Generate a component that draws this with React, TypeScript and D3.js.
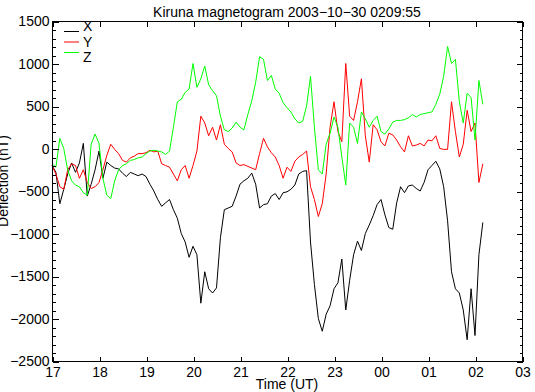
import React, { useEffect, useRef } from 'react';
import * as d3 from 'd3';

// Kiruna magnetogram 2003-10-30, samples every 5 minutes from 17:00 UT
const stepMinutes = 5;
const hourLabels = ['17', '18', '19', '20', '21', '22', '23', '00', '01', '02', '03'];
const seriesNames = ['X', 'Y', 'Z'];

const xValues = [
  -200, -280, -650, -480, -300, -170, -280, -170, 60, -560,
  -420, -250, -30, -350, -160, -200, -230, -240, -290, -330,
  -280, -300, -320, -300, -330, -420, -500, -600, -680, -640,
  -600, -720, -820, -1000, -1100, -1280, -1150, -1250, -1820, -1450,
  -1650, -1700, -1640, -1050, -720, -700, -680, -560, -420, -380,
  -350, -290, -420, -700, -660, -650, -560, -530, -600, -520,
  -510, -480, -430, -300, -270, -260, -1100, -1600, -2000, -2150,
  -1950, -1850, -1650, -1580, -1300, -1900, -1550, -1250, -1090, -1200,
  -1000, -900, -790, -660, -600, -780, -930, -950, -640, -450,
  -520, -440, -430, -470, -500, -400, -250, -200, -150, -240,
  -450, -850, -1450, -1650, -1700, -1900, -2250, -1650, -2200, -1250,
  -870,
];

const yValues = [
  -200, -300, -450, -480, -250, -180, -200, -350, -250, -400,
  -470, -450, -400, -250, -80, 50, -10, -60, -140, -160,
  -110, -90, -60, -60, -50, -20, -40, -30, -180, -200,
  -220, -300, -380, -250, -200, -350, -200, -30, 380, 300,
  150, 250, 100, 280, 50, 0, -40, -170, -200, -190,
  -210, -230, -250, -60, 120, 20, -50, -100, -200, -350,
  -220, -270, -150, -100, -70, -30, -450, -600, -800, -650,
  -300, 250, 550, 200, 80, 1000, 380, 330, 550, 820,
  150, -160, 280, 220, 80, 30, 180, 160, 100, 20,
  -40, 150, 30, 40, 60, 30, 100, 90, 150, 0,
  -10, -10, 550, 200, -100, 50, 450, 200, 300, -400,
  -180,
];

const zValues = [
  -180, -220, 120, 0, -250, -380, -430, -450, -520, -550,
  50, 170, 60, -350, -550, -590, -380, -250, -200, -180,
  -140, -130, -110, -100, -60, -30, -20, -30, -40, -70,
  -30, 250, 550, 580, 660, 700, 1000, 720, 820, 970,
  750, 680, 620, 380, 220, 200, 240, 310, 250, 220,
  400, 560, 780, 1080, 1050, 800, 860, 700, 650, 540,
  480, 430, 350, 300, 320, 500, 850, 250, -250, -300,
  50, 180, 370, 250, -100, -430, 300, 250, 60, 430,
  350, 250, 330, 380, 200, 170, 230, 310, 330, 330,
  340, 360, 400, 370, 400, 410, 420, 430, 520, 640,
  850, 1200, 1000, 1050, 550, 300, 650, 600, 100, 800,
  520,
];

const App: React.FC = () => {
  const ref = useRef<SVGSVGElement>(null);

  useEffect(() => {
    const svg = d3.select(ref.current);
    svg.selectAll('*').remove();

    const width = 535;
    const height = 392;
    const left = 52;
    const right = 522;
    const top = 21;
    const bottom = 361;
    const font = '"Liberation Sans", Arial, Helvetica, sans-serif';
    const colors = ['#000000', '#ff0000', '#00ff00'];

    svg.attr('width', width).attr('height', height);

    const x = d3.scaleLinear().domain([0, 600]).range([left, right]);
    const y = d3.scaleLinear().domain([-2500, 1500]).range([bottom, top]);

    // data lines
    const line = d3
      .line<number>()
      .x((_, i) => x(i * stepMinutes))
      .y((d) => y(d));

    [xValues, yValues, zValues].forEach((vals, k) => {
      svg
        .append('path')
        .attr('d', line(vals))
        .attr('fill', 'none')
        .attr('stroke', colors[k])
        .attr('stroke-width', 1);
    });

    // frame
    svg
      .append('rect')
      .attr('x', left + 0.5)
      .attr('y', top + 0.5)
      .attr('width', right - left)
      .attr('height', bottom - top)
      .attr('fill', 'none')
      .attr('stroke', '#000')
      .attr('shape-rendering', 'crispEdges');

    const hours = d3.range(0, 601, 60);
    const major = d3.range(-2500, 1501, 500);
    const minor = d3.range(-2500, 1501, 100);

    const style = (g: d3.Selection<SVGGElement, unknown, null, undefined>) => {
      g.select('.domain').remove();
      g.selectAll('line').attr('stroke', '#000').attr('shape-rendering', 'crispEdges');
      g.selectAll('text').attr('fill', '#000').style('font-family', font).style('font-size', '14px');
    };

    svg
      .append('g')
      .attr('transform', `translate(0.5,${bottom + 0.5})`)
      .call(
        d3.axisBottom(x).tickValues(hours).tickFormat((_, i) => hourLabels[i])
          .tickSizeInner(-5).tickSizeOuter(0).tickPadding(6)
      )
      .call(style);

    svg
      .append('g')
      .attr('transform', `translate(0.5,${top + 0.5})`)
      .call(d3.axisTop(x).tickValues(hours).tickFormat(() => '').tickSizeInner(-5).tickSizeOuter(0))
      .call(style);

    svg
      .append('g')
      .attr('transform', `translate(${left + 0.5},0.5)`)
      .call(d3.axisLeft(y).tickValues(minor).tickFormat(() => '').tickSizeInner(-3).tickSizeOuter(0))
      .call(style);

    svg
      .append('g')
      .attr('transform', `translate(${left + 0.5},0.5)`)
      .call(d3.axisLeft(y).tickValues(major).tickFormat(d3.format('d')).tickSizeInner(-6).tickSizeOuter(0).tickPadding(3))
      .call(style);

    svg
      .append('g')
      .attr('transform', `translate(${right + 0.5},0.5)`)
      .call(d3.axisRight(y).tickValues(minor).tickFormat(() => '').tickSizeInner(-3).tickSizeOuter(0))
      .call(style);

    svg
      .append('g')
      .attr('transform', `translate(${right + 0.5},0.5)`)
      .call(d3.axisRight(y).tickValues(major).tickFormat(() => '').tickSizeInner(-6).tickSizeOuter(0))
      .call(style);

    // title and axis titles
    svg
      .append('text')
      .attr('x', (left + right) / 2)
      .attr('y', 17)
      .attr('text-anchor', 'middle')
      .style('font-family', font)
      .style('font-size', '14px')
      .text('Kiruna magnetogram 2003\u221210\u221230 0209:55');

    svg
      .append('text')
      .attr('x', (left + right) / 2)
      .attr('y', 389)
      .attr('text-anchor', 'middle')
      .style('font-family', font)
      .style('font-size', '14px')
      .text('Time (UT)');

    svg
      .append('text')
      .attr('transform', `translate(8,${(top + bottom) / 2 - 10}) rotate(-90)`)
      .attr('text-anchor', 'middle')
      .style('font-family', font)
      .style('font-size', '14px')
      .text('Deflection (nT)');

    // legend
    seriesNames.forEach((name, k) => {
      svg
        .append('line')
        .attr('x1', 64)
        .attr('x2', 79)
        .attr('y1', 31.5 + k * 10.5)
        .attr('y2', 31.5 + k * 10.5)
        .attr('stroke', colors[k]);
      svg
        .append('text')
        .attr('x', 83)
        .attr('y', 31 + k * 15.5)
        .style('font-family', font)
        .style('font-size', '14px')
        .text(name);
    });
  }, []);

  return <svg ref={ref} style={{ position: 'absolute', left: 0, top: 0 }}></svg>;
};

export default App;
